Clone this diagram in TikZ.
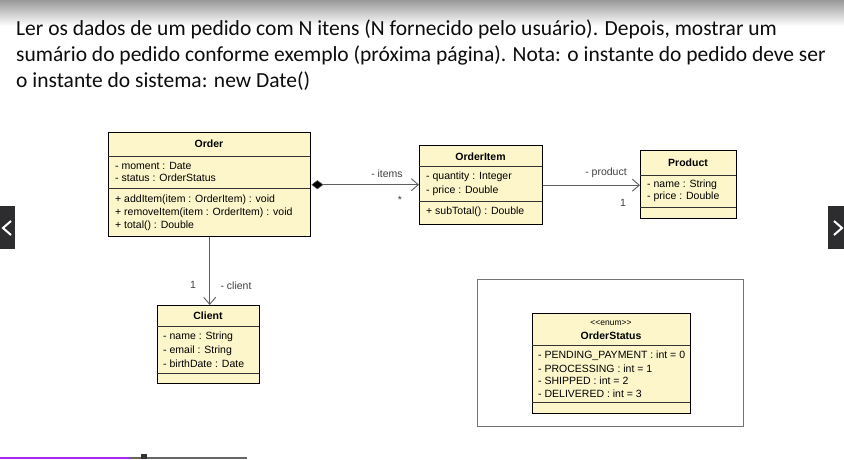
\documentclass[tikz,border=0pt]{standalone}
\usepackage{fontspec}
\setmainfont{Liberation Sans}
\newfontfamily\calibri{Carlito}
\usetikzlibrary{arrows.meta}
\definecolor{umlfill}{RGB}{253,246,203}
\definecolor{conngray}{RGB}{95,95,95}
\definecolor{navdark}{RGB}{45,45,47}
\definecolor{barpurple}{RGB}{170,40,240}
\tikzset{
  cls/.style={draw=black, line width=1.4pt, fill=umlfill, inner sep=0pt, anchor=north west},
  sepline/.style={draw=black!80, line width=0.6pt},
  ctitle/.style={font=\fontsize{10.5}{12}\selectfont\bfseries, inner sep=0pt, anchor=center},
  cattr/.style={font=\fontsize{10.5}{12}\selectfont, inner sep=0pt, anchor=west},
  clabel/.style={font=\fontsize{10.5}{12}\selectfont, text=black!75, inner sep=0pt, anchor=center},
  conn/.style={draw=conngray, line width=0.9pt},
  openhead/.style={-{Straight Barb[length=7pt,width=12pt]}},
  headline/.style={font=\calibri\fontsize{21.5}{26}\selectfont, inner sep=0pt, anchor=base west, text=black!95},
}
\begin{document}
\begin{tikzpicture}[x=1pt,y=-1pt]
\useasboundingbox (0,0) rectangle (844,459);
\fill[white] (0,0) rectangle (844,459);
\shade[top color=black!40, bottom color=white] (0,0) rectangle (844,26);

% heading text
\node[headline] (h1) at (16,35) {Ler os dados de um pedido com N itens (N fornecido pelo usuário). Depois, mostrar um};
\node[headline] (h2) at (16,61) {sumário do pedido conforme exemplo (próxima página). Nota: o instante do pedido deve ser};
\node[headline] (h3) at (16,87) {o instante do sistema: new Date()};

% Order
\node[cls, minimum width=202pt, minimum height=104pt] (order) at (108,132) {};
\draw[sepline] (108,156) -- (310,156);
\draw[sepline] (108,188) -- (310,188);
\node[ctitle] (ordert) at (209,144) {Order};
\node[cattr] (o1) at (115,166) {- moment : Date};
\node[cattr] (o2) at (115,178) {- status : OrderStatus};
\node[cattr] (o3) at (115,200) {+ addItem(item : OrderItem) : void};
\node[cattr] (o4) at (115,213) {+ removeItem(item : OrderItem) : void};
\node[cattr] (o5) at (115,226) {+ total() : Double};

% OrderItem
\node[cls, minimum width=123pt, minimum height=79pt] (orderitem) at (419,145) {};
\draw[sepline] (419,166) -- (542,166);
\draw[sepline] (419,201) -- (542,201);
\node[ctitle] (oit) at (480.5,157) {OrderItem};
\node[cattr] (oi1) at (426,177) {- quantity : Integer};
\node[cattr] (oi2) at (426,191) {- price : Double};
\node[cattr] (oi3) at (426,212) {+ subTotal() : Double};

% Product
\node[cls, minimum width=96pt, minimum height=68pt] (product) at (640,150) {};
\draw[sepline] (640,175) -- (736,175);
\draw[sepline] (640,207) -- (736,207);
\node[ctitle] (pt) at (688,163) {Product};
\node[cattr] (p1) at (647,185) {- name : String};
\node[cattr] (p2) at (647,197) {- price : Double};

% Client
\node[cls, minimum width=102pt, minimum height=78pt] (client) at (157,305) {};
\draw[sepline] (157,326) -- (259,326);
\draw[sepline] (157,373) -- (259,373);
\node[ctitle] (ct) at (208,316) {Client};
\node[cattr] (c1) at (163,337) {- name : String};
\node[cattr] (c2) at (163,351) {- email : String};
\node[cattr] (c3) at (163,364) {- birthDate : Date};

% enum frame
\draw[draw=black!55, line width=0.8pt] (477,279) rectangle (743,426);
\node[cls, minimum width=158pt, minimum height=100pt] (status) at (532,313) {};
\draw[sepline] (532,345) -- (690,345);
\draw[sepline] (532,402) -- (690,402);
\node[cattr, anchor=center, font=\fontsize{8.5}{10}\selectfont] (st0) at (611,323) {<{}<enum>{}>};
\node[ctitle] (st) at (611,336) {OrderStatus};
\node[cattr] (s1) at (538,356) {- PENDING\_PAYMENT : int = 0};
\node[cattr] (s2) at (538,369) {- PROCESSING : int = 1};
\node[cattr] (s3) at (538,381) {- SHIPPED : int = 2};
\node[cattr] (s4) at (538,394) {- DELIVERED : int = 3};

% connectors
\draw[conn, {Diamond[length=12pt,width=9pt,fill=black,line width=0.5pt]}-{Straight Barb[length=7pt,width=12pt]}]
  (order.east) -- (orderitem.west |- order.east);
\draw[conn, openhead]
  (orderitem.east) -- (product.west |- orderitem.east);
\draw[conn, openhead]
  (order.south) -- (client.north -| order.south);

\node[clabel] (l1) at (387,174) {- items};
\node[clabel] (l2) at (400,200) {*};
\node[clabel] (l3) at (606,173) {- product};
\node[clabel] (l4) at (623,203) {1};
\node[clabel] (l5) at (193,285) {1};
\node[clabel] (l6) at (236,286) {- client};

% navigation buttons
\fill[navdark] (0,206) rectangle (15,249);
\draw[white, line width=2pt] (11,221) -- (3,228) -- (11,235);
\fill[navdark] (828,206) rectangle (844,249);
\draw[white, line width=2pt] (834,221) -- (842,228) -- (834,235);

% bottom progress bar
\draw[barpurple, line width=2pt] (0,458) -- (130,458);
\draw[black!60, line width=1.5pt] (130,458) -- (247,458);
\fill[black!80] (141,454) rectangle (147,459);
\end{tikzpicture}
\end{document}
